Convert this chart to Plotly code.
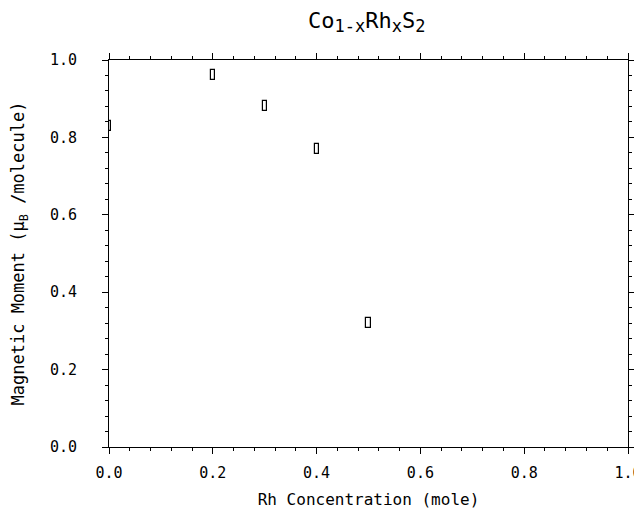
import plotly.graph_objects as go

# Data
rh_conc = [0.0, 0.2, 0.3, 0.4, 0.5]
moment = [0.83, 0.961, 0.881, 0.770, 0.320]
moment_err = [0.013, 0.013, 0.013, 0.013, 0.013]

tick_vals = [0.0, 0.2, 0.4, 0.6, 0.8, 1.0]
tick_text = ["0.0", "0.2", "0.4", "0.6", "0.8", "1.0"]

FONT = "DejaVu Sans Mono"

fig = go.Figure()
fig.add_trace(go.Bar(
    x=rh_conc,
    y=[2 * e for e in moment_err],
    base=[m - e for m, e in zip(moment, moment_err)],
    width=0.008,
    marker=dict(color="white", line=dict(color="black", width=1.2)),
    showlegend=False,
))

axis_common = dict(
    range=[0, 1],
    tickvals=tick_vals,
    ticktext=tick_text,
    showgrid=False,
    zeroline=False,
    showline=True,
    linecolor="black",
    linewidth=1,
    mirror="allticks",
    ticks="outside",
    ticklen=6,
    tickwidth=1,
    tickcolor="black",
    automargin=False,
    minor=dict(dtick=0.04, ticks="outside", ticklen=3, tickwidth=1, tickcolor="black", showgrid=False),
    tickfont=dict(family=FONT, size=15, color="black"),
)

fig.update_xaxes(
    **axis_common,
    title=dict(text="Rh Concentration (mole)", font=dict(family=FONT, size=16, color="black"), standoff=12),
    ticklabelstandoff=6,
)
fig.update_yaxes(
    **axis_common,
    title=dict(text="Magnetic Moment (μ<sub>B</sub> /molecule)", font=dict(family=FONT, size=17, color="black"), standoff=22),
    ticklabelstandoff=22,
)

fig.update_layout(
    width=634,
    height=505,
    margin=dict(l=101, r=14, t=52, b=66),
    paper_bgcolor="white",
    plot_bgcolor="white",
    title=dict(
        text="Co<sub><span style='font-size:17px'>1-x</span></sub>Rh<sub><span style='font-size:17px'>x</span></sub>S<sub><span style='font-size:17px'>2</span></sub>",
        x=0.566, xanchor="center",
        y=0.976, yanchor="middle",
        font=dict(family=FONT, size=22, color="black"),
    ),
    bargap=0,
)

fig.write_html("out.html")
